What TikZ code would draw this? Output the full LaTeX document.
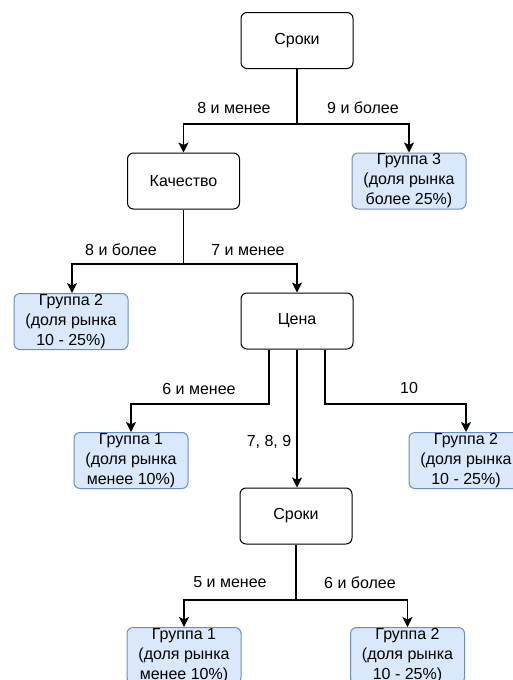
\documentclass[tikz,border=0pt]{standalone}
\usepackage{fontspec}
\setmainfont{Liberation Sans}
\usetikzlibrary{arrows.meta}
\definecolor{bfill}{HTML}{DAE8FC}
\definecolor{bdraw}{HTML}{6C8EBF}
\tikzset{
  crit/.style={draw=black, line width=1pt, rounded corners=6pt, minimum width=112pt, minimum height=56pt, inner sep=0pt, font=\fontsize{16}{20}\selectfont},
  grp/.style={draw=bdraw, fill=bfill, line width=1pt, rounded corners=6pt, minimum width=114pt, minimum height=56pt, inner sep=0pt, align=center, font=\fontsize{16}{20}\selectfont},
  lbl/.style={inner sep=0pt, font=\fontsize{16}{20}\selectfont},
  con/.style={line width=1.2pt, black},
  arr/.style={con, -{Stealth[length=10pt,width=10pt,inset=2.5pt]}}
}
\begin{document}
\begin{tikzpicture}[x=1pt,y=-1pt]
\useasboundingbox (0,0) rectangle (513,680);
% nodes
\node[crit] (s1) at (297,40.5) {Сроки};
\node[crit] (q) at (183.5,181) {Качество};
\node[grp] (g3) at (409,181) {Группа 3\\(доля рынка\\более 25\%)};
\node[grp] (g2a) at (71,321.5) {Группа 2\\(доля рынка\\10 - 25\%)};
\node[crit] (c) at (297,321) {Цена};
\node[grp] (g1a) at (131,460.5) {Группа 1\\(доля рынка\\менее 10\%)};
\node[grp] (g2b) at (466,460.5) {Группа 2\\(доля рынка\\10 - 25\%)};
\node[crit] (s2) at (296,516) {Сроки};
\node[grp] (g1b) at (184,655.5) {Группа 1\\(доля рынка\\менее 10\%)};
\node[grp] (g2c) at (407.5,655.5) {Группа 2\\(доля рынка\\10 - 25\%)};
% labels
\node[lbl] (l1) at (234,108) {8 и менее};
\node[lbl] (l2) at (363,108) {9 и более};
\node[lbl] (l3) at (121,250) {8 и более};
\node[lbl] (l4) at (248,250) {7 и менее};
\node[lbl] (l5) at (199,389) {6 и менее};
\node[lbl] (l6) at (409,388) {10};
\node[lbl] (l7) at (269,442) {7, 8, 9};
\node[lbl] (l8) at (230,582) {5 и менее};
\node[lbl] (l9) at (360,583) {6 и более};
% junctions
\coordinate (j1) at (297,124);
\coordinate (j2) at (183.5,264);
\coordinate (jl) at (269,404);
\coordinate (jr) at (325,404);
\coordinate (j3) at (296,600);
% connectors
\draw[con] (s1) -- (j1);
\draw[arr] (j1) -| (q);
\draw[arr] (j1) -| (g3);
\draw[con] (q) -- (j2);
\draw[arr] (j2) -| (g2a.north -| 72,0);
\draw[arr] (j2) -| (c);
\draw[arr] (c.south -| jl) -- (jl) -| (g1a);
\draw[arr] (c.south -| jr) -- (jr) -| (g2b);
\draw[arr] (c.south) -- (s2.north -| c.south);
\draw[con] (s2) -- (j3);
\draw[arr] (j3) -| (g1b);
\draw[arr] (j3) -| (g2c);
\end{tikzpicture}
\end{document}
